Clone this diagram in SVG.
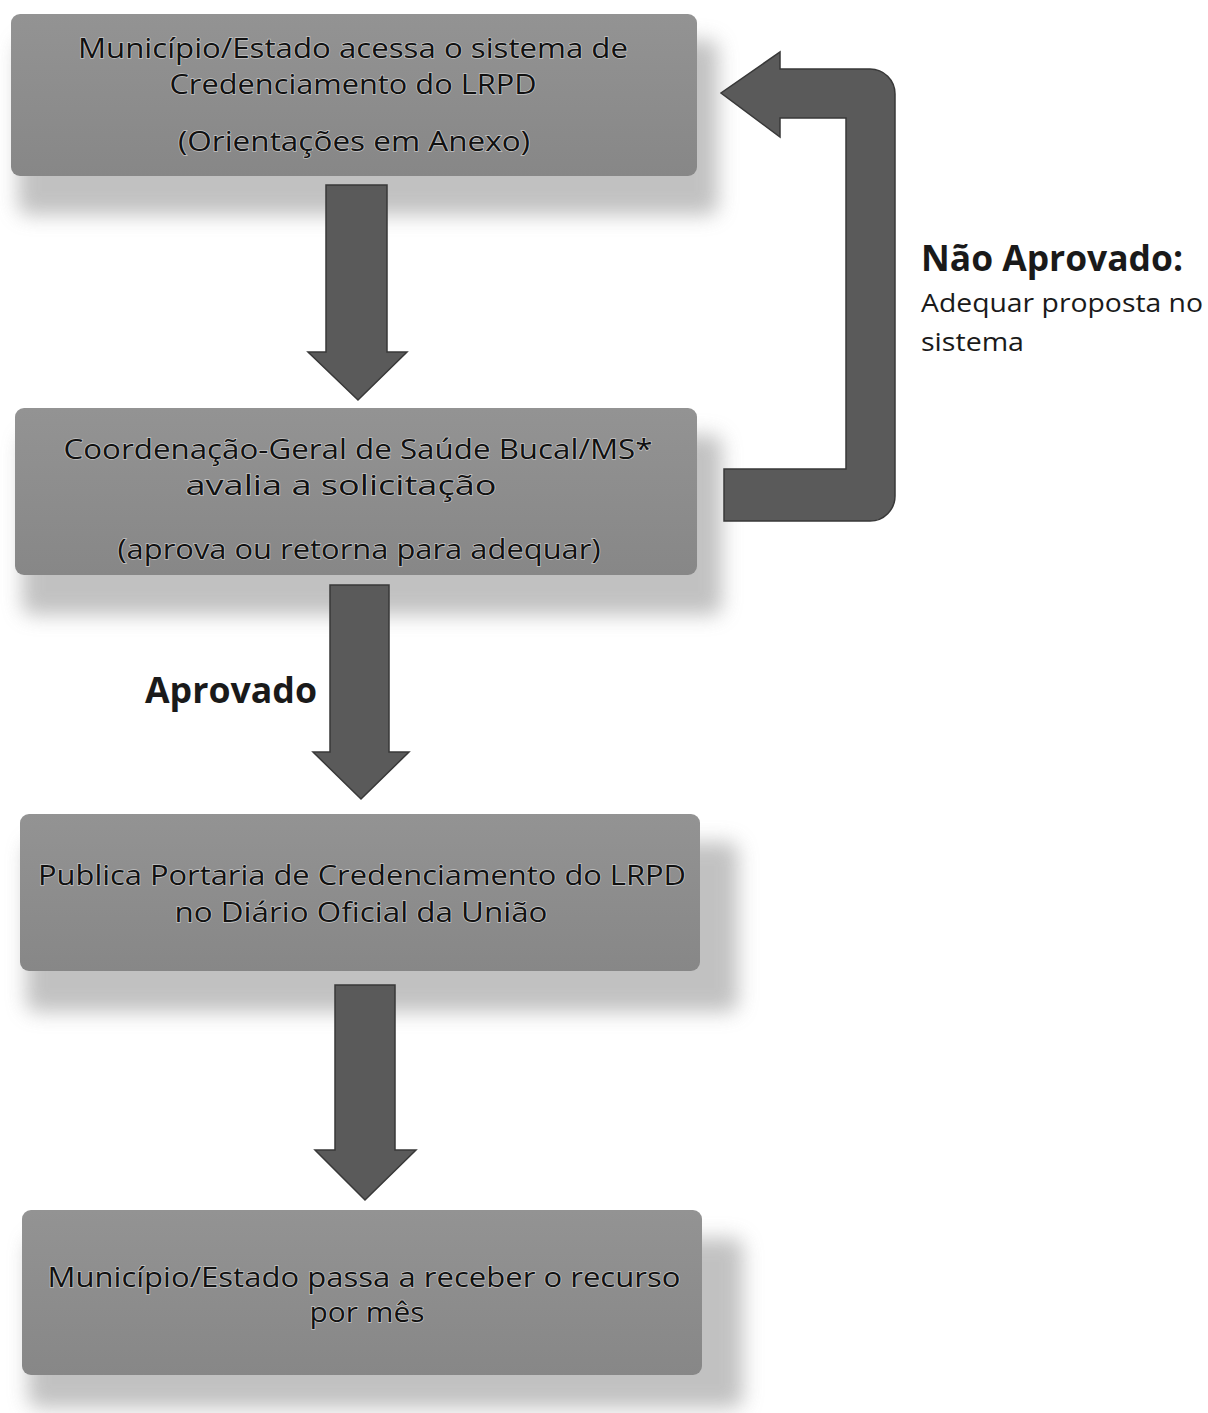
<svg xmlns="http://www.w3.org/2000/svg" width="1208" height="1413" viewBox="0 0 1208 1413">
<defs>
<filter id="shadow" x="-10%" y="-30%" width="130%" height="180%">
<feGaussianBlur stdDeviation="10"/>
</filter>
<linearGradient id="boxg" x1="0" y1="0" x2="0" y2="1">
<stop offset="0" stop-color="#939393"/>
<stop offset="1" stop-color="#878787"/>
</linearGradient>
</defs>
<style>
.box{fill:url(#boxg);}
.shd{fill:#a8a8a8;opacity:0.7;filter:url(#shadow);}
.t{font-family:"Open Sans","Noto Sans",sans-serif;font-size:27px;font-weight:500;fill:#111111;text-anchor:middle;stroke:#c4c4c4;stroke-width:1.3px;paint-order:stroke;}
.arr{fill:#5a5a5a;stroke:#383838;stroke-width:1.5;}
.lbl{font-family:"Open Sans","Noto Sans",sans-serif;fill:#1a1a1a;}
</style>
<rect width="1208" height="1413" fill="#ffffff"/>

<g id="node1">
<rect class="shd" x="18" y="40" width="700" height="175" rx="10"/>
<rect class="box" x="11" y="14" width="686" height="162" rx="9"/>
<text class="t" x="353" y="58" textLength="550" lengthAdjust="spacingAndGlyphs">Município/Estado acessa o sistema de</text>
<text class="t" x="353" y="94" textLength="367" lengthAdjust="spacingAndGlyphs">Credenciamento do LRPD</text>
<text class="t" x="354" y="151" textLength="352" lengthAdjust="spacingAndGlyphs">(Orientações em Anexo)</text>
</g>

<g id="node2">
<rect class="shd" x="22" y="435" width="700" height="180" rx="10"/>
<rect class="box" x="15" y="408" width="682" height="167" rx="9"/>
<text class="t" x="358" y="459" textLength="589" lengthAdjust="spacingAndGlyphs">Coordenação-Geral de Saúde Bucal/MS*</text>
<text class="t" x="341" y="495" textLength="311" lengthAdjust="spacingAndGlyphs">avalia a solicitação</text>
<text class="t" x="359" y="559" textLength="483" lengthAdjust="spacingAndGlyphs">(aprova ou retorna para adequar)</text>
</g>

<g id="node3">
<rect class="shd" x="26" y="842" width="712" height="170" rx="10"/>
<rect class="box" x="20" y="814" width="680" height="157" rx="9"/>
<text class="t" x="362" y="885" textLength="648" lengthAdjust="spacingAndGlyphs">Publica Portaria de Credenciamento do LRPD</text>
<text class="t" x="361" y="922" textLength="373" lengthAdjust="spacingAndGlyphs">no Diário Oficial da União</text>
</g>

<g id="node4">
<rect class="shd" x="28" y="1238" width="715" height="170" rx="10"/>
<rect class="box" x="22" y="1210" width="680" height="165" rx="9"/>
<text class="t" x="364" y="1287" textLength="633" lengthAdjust="spacingAndGlyphs">Município/Estado passa a receber o recurso</text>
<text class="t" x="367" y="1322" textLength="115" lengthAdjust="spacingAndGlyphs">por mês</text>
</g>

<g id="connectors">
<path class="arr" d="M326,185 H387 V352 H407 L358,400 L308,352 H326 Z"/>
<path class="arr" d="M330,585 H389 V752 H409 L361,799 L313,752 H330 Z"/>
<path class="arr" d="M335,985 H395 V1150 H416 L365,1200 L315,1150 H335 Z"/>
<path class="arr" d="M724,469 H846 V118 H780 V137 L721,93 L780,52 V69 H870 A25,25 0 0 1 895,94 V496 A25,25 0 0 1 870,521 H724 Z"/>
</g>

<g id="label-aprovado">
<text class="lbl" x="145" y="703" font-size="36" font-weight="bold" textLength="172" lengthAdjust="spacingAndGlyphs">Aprovado</text>
</g>

<g id="label-nao-aprovado">
<text class="lbl" x="921" y="271" font-size="36" font-weight="bold" textLength="262" lengthAdjust="spacingAndGlyphs">Não Aprovado:</text>
<text class="lbl" x="921" y="312" font-size="25" textLength="282" lengthAdjust="spacingAndGlyphs">Adequar proposta no</text>
<text class="lbl" x="921" y="351" font-size="25" textLength="103" lengthAdjust="spacingAndGlyphs">sistema</text>
</g>
</svg>
